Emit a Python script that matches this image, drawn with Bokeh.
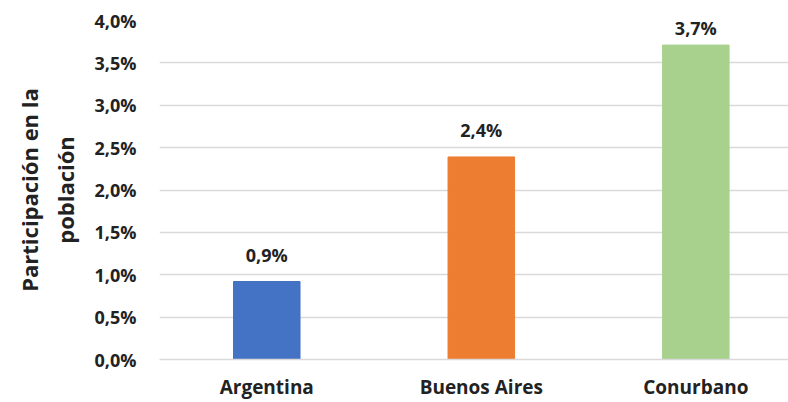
from bokeh.plotting import figure
from bokeh.models import Range1d, FixedTicker, ColumnDataSource, LabelSet
from bokeh.core.properties import value
from bokeh.embed import file_html
from bokeh.resources import INLINE

categories = ["Argentina", "Buenos Aires", "Conurbano"]
values = [0.92, 2.39, 3.71]
bar_colors = ["#4472C4", "#ED7D31", "#A9D18E"]
y_ticks = [0.0, 0.5, 1.0, 1.5, 2.0, 2.5, 3.0, 3.5, 4.0]
y_tick_labels = ["0,0%", "0,5%", "1,0%", "1,5%", "2,0%", "2,5%", "3,0%", "3,5%", "4,0%"]
y_title = "Participación en la\npoblación"

FONT = "Open Sans"
TXT = "#222222"
Y_MAX = 4.0
positions = list(range(len(categories)))
value_labels = [f"{v:.1f}%".replace(".", ",") for v in values]
# label baseline sits a little above each bar, kept inside the plot area (as Excel does)
label_y = [min(v + 0.235, Y_MAX - 0.17) for v in values]

src = ColumnDataSource(dict(x=positions, top=values, color=bar_colors,
                            lab=value_labels, ly=label_y))

p = figure(width=788, height=402, output_backend="svg", toolbar_location=None,
           x_range=Range1d(-0.5, 2.432), y_range=Range1d(0, Y_MAX),
           min_border_left=159, min_border_right=0, min_border_top=20, min_border_bottom=42)
p.outline_line_color = None
p.background_fill_color = "white"

p.vbar(x="x", top="top", width=0.31, color="color", source=src)

labels = LabelSet(x="x", y="ly", text="lab", source=src, text_align="center",
                  text_baseline="alphabetic", text_font=value(FONT),
                  text_font_style="bold", text_font_size="18px", text_color=TXT)
p.add_layout(labels)

p.xgrid.grid_line_color = None
p.ygrid.grid_line_color = "#D9D9D9"
p.ygrid.grid_line_width = 1.5

for ax in (p.xaxis, p.yaxis):
    ax.major_tick_line_color = None
    ax.minor_tick_line_color = None
    ax.major_tick_out = 0
    ax.major_tick_in = 0
    ax.minor_tick_out = 0
    ax.minor_tick_in = 0
    ax.major_label_text_font = FONT
    ax.major_label_text_font_style = "bold"
    ax.major_label_text_color = TXT

p.xaxis.ticker = FixedTicker(ticks=positions)
p.xaxis.major_label_overrides = {i: c for i, c in zip(positions, categories)}
p.xaxis.axis_line_color = "#D9D9D9"
p.xaxis.axis_line_width = 1.5
p.xaxis.major_label_standoff = 14
p.xaxis.major_label_text_font_size = "19px"

p.yaxis.ticker = FixedTicker(ticks=y_ticks)
p.yaxis.major_label_overrides = {t: l for t, l in zip(y_ticks, y_tick_labels)}
p.yaxis.axis_line_color = None
p.yaxis.major_label_standoff = 23
p.yaxis.major_label_text_font_size = "18px"
p.yaxis.axis_label = y_title
p.yaxis.axis_label_text_font = FONT
p.yaxis.axis_label_text_font_style = "bold"
p.yaxis.axis_label_text_font_size = "22px"
p.yaxis.axis_label_text_color = TXT
p.yaxis.axis_label_standoff = 12

open("out.html", "w").write(file_html(p, INLINE))
